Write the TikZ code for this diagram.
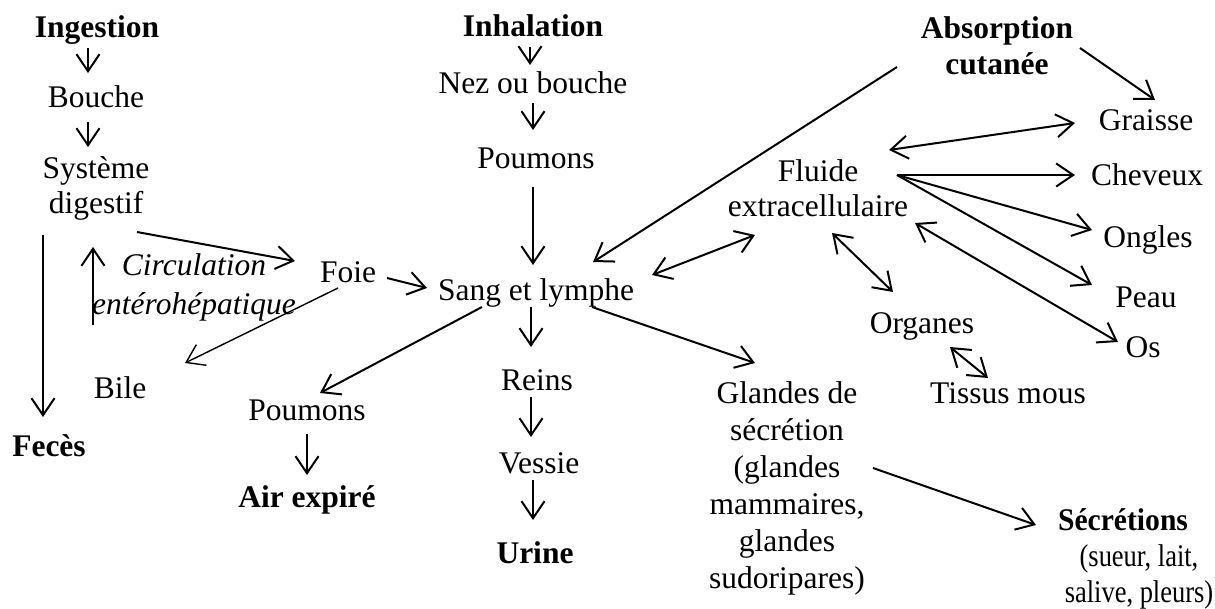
\documentclass[tikz,border=0pt]{standalone}
\usepackage{fontspec}
\setmainfont{Liberation Serif}
\newfontfamily\condfont{Liberation Serif}[FakeStretch=0.84]
\newfontfamily\condbold{Liberation Serif}[FakeStretch=0.94]
\usetikzlibrary{arrows.meta,calc}
\newcommand\fsz{\fontsize{31.5}{36}\selectfont}
\tikzset{
  lbl/.style={inner sep=0pt, font=\fsz, align=center},
  one/.style={lbl, text height=21.7pt, text depth=6.9pt},
  bf/.style={font=\fsz\bfseries},
  arr/.style={line width=2pt, -{Straight Barb[length=17pt,width=23pt]}},
  darr/.style={line width=2pt, {Straight Barb[length=17pt,width=23pt]}-{Straight Barb[length=17pt,width=23pt]}},
  thin arr/.style={line width=1.4pt, -{Straight Barb[length=17pt,width=23pt]}}
}
\begin{document}
\begin{tikzpicture}[x=1pt,y=-1pt]
\useasboundingbox (0,0) rectangle (1215,608);
% nodes
\node[one,bf] (ingestion) at (97,30) {Ingestion};
\node[one] (bouche) at (96,100) {Bouche};
\node[lbl,font=\fontsize{31.5}{35}\selectfont] (systeme) at (96,188) {Système\\digestif};
\node[one,bf] (feces) at (49,449) {Fecès};
\node[lbl,font=\fontsize{31.5}{39}\selectfont\itshape] (circ) at (194,287) {Circulation\\entérohépatique};
\node[one] (bile) at (120,391) {Bile};
\node[one] (foie) at (348,275) {Foie};
\node[one,bf] (inhalation) at (533,29) {Inhalation};
\node[one] (nez) at (533,86) {Nez ou bouche};
\node[one] (poumonsA) at (536,161) {Poumons};
\node[one] (sang) at (536,293) {Sang et lymphe};
\node[one] (poumonsB) at (307,413) {Poumons};
\node[one,bf] (air) at (307,500) {Air expiré};
\node[one] (reins) at (537,383) {Reins};
\node[one] (vessie) at (539,466) {Vessie};
\node[one,bf] (urine) at (535,556) {Urine};
\node[lbl,font=\fontsize{31.5}{36}\selectfont\bfseries] (absorption) at (997,46) {Absorption\\cutanée};
\node[one] (graisse) at (1146,123) {Graisse};
\node[one] (cheveux) at (1147,178) {Cheveux};
\node[one] (ongles) at (1148,240) {Ongles};
\node[one] (peau) at (1146,300) {Peau};
\node[one] (os) at (1143,350) {Os};
\node[lbl,font=\fontsize{31.5}{35}\selectfont] (fluide) at (818,188) {Fluide\\extracellulaire};
\node[one] (organes) at (922,326) {Organes};
\node[one] (tissus) at (1008,396) {Tissus mous};
\node[lbl,font=\fontsize{31.5}{37}\selectfont] (glandes) at (787,488) {Glandes de\\sécrétion\\(glandes\\mammaires,\\glandes\\sudoripares)};
\node[lbl,font=\fontsize{31.5}{36}\selectfont] (secretions) at (1139,559) {\mbox{\condbold\bfseries Sécrétions\kern32pt}\\{\condfont (sueur, lait,}\\{\condfont salive, pleurs)}};
% connectors
\draw[arr] ($(ingestion)+(-9,18)$) -- ($(bouche)+(-8,-27)$);
\draw[arr] ($(bouche)+(-8,22)$) -- ($(systeme)+(-8,-41)$);
\draw[arr] ($(systeme)+(-53,47)$) -- ($(feces)+(-6,-32)$);
\draw[arr] ($(bile)+(-27,-66)$) -- ($(systeme)+(-3,59)$);
\draw[arr] ($(systeme)+(41,44)$) -- ($(foie)+(-53,-14)$);
\draw[arr] ($(foie)+(39,3)$) -- ($(sang)+(-109,-5)$);
\draw[thin arr] ($(foie)+(-10,13)$) -- ($(bile)+(65,-28)$);
\draw[arr] ($(inhalation)+(-3,18)$) -- ($(nez)+(-3,-21)$);
\draw[arr] ($(nez)+(0,17)$) -- ($(poumonsA)+(-3,-31)$);
\draw[arr] ($(poumonsA)+(-3,26)$) -- ($(sang)+(-3,-28)$);
\draw[arr] ($(absorption)+(-100,21)$) -- ($(sang)+(57,-31)$);
\draw[arr] ($(absorption)+(83,2)$) -- ($(graisse)+(9,-23)$);
\draw[darr] ($(fluide)+(71,-38)$) -- ($(graisse)+(-71,0)$);
\draw[arr] ($(fluide)+(79,-13)$) -- ($(cheveux)+(-72,-3)$);
\draw[arr] ($(fluide)+(79,-13)$) -- ($(ongles)+(-56,-10)$);
\draw[arr] ($(fluide)+(79,-13)$) -- ($(peau)+(-54,-15)$);
\draw[darr] ($(fluide)+(97,35)$) -- ($(os)+(-25,-8)$);
\draw[darr] ($(sang)+(116,-18)$) -- ($(fluide)+(-63,47)$);
\draw[darr] ($(fluide)+(14,45)$) -- ($(organes)+(-29,-34)$);
\draw[darr] ($(organes)+(28,21)$) -- ($(tissus)+(-20,-18)$);
\draw[arr] ($(sang)+(56,14)$) -- ($(glandes)+(-32,-125)$);
\draw[arr] ($(sang)+(-54,14)$) -- ($(poumonsB)+(13,-20)$);
\draw[arr] ($(poumonsB)+(0,21)$) -- ($(air)+(0,-25)$);
\draw[arr] ($(sang)+(-5,14)$) -- ($(reins)+(-6,-36)$);
\draw[arr] ($(reins)+(-6,14)$) -- ($(vessie)+(-8,-29)$);
\draw[arr] ($(vessie)+(-6,14)$) -- ($(urine)+(-2,-36)$);
\draw[arr] ($(glandes)+(86,-20)$) -- ($(secretions)+(-103,-34)$);
\end{tikzpicture}
\end{document}
